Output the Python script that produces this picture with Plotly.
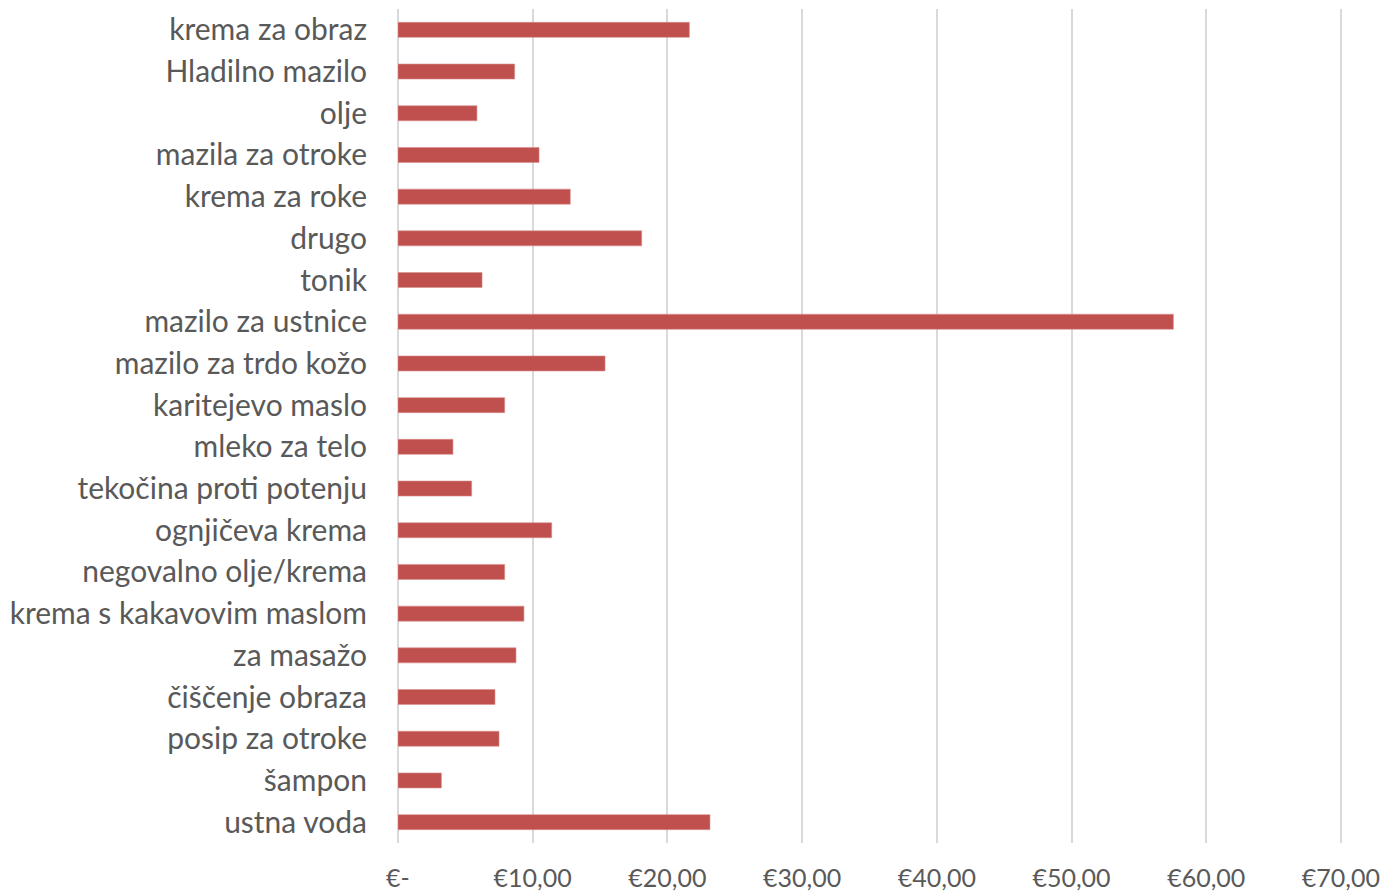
import plotly.graph_objects as go

# categories listed top to bottom, as in the picture
categories = [
    "krema za obraz", "Hladilno mazilo", "olje", "mazila za otroke",
    "krema za roke", "drugo", "tonik", "mazilo za ustnice",
    "mazilo za trdo kožo", "karitejevo maslo", "mleko za telo",
    "tekočina proti potenju", "ognjičeva krema", "negovalno olje/krema",
    "krema s kakavovim maslom", "za masažo", "čiščenje obraza",
    "posip za otroke", "šampon", "ustna voda",
]
prices = [
    21.63, 8.66, 5.86, 10.47,
    12.79, 18.09, 6.24, 57.56,
    15.37, 7.92, 4.08,
    5.47, 11.41, 7.92,
    9.35, 8.76, 7.20,
    7.50, 3.22, 23.16,
]
tick_vals = [0, 10, 20, 30, 40, 50, 60, 70]
tick_text = ["€-", "€10,00", "€20,00", "€30,00", "€40,00", "€50,00", "€60,00", "€70,00"]

fig = go.Figure(go.Bar(
    x=prices,
    y=categories,
    orientation="h",
    marker=dict(color="#c0504d", line=dict(color="#d98f8d", width=0.6)),
))

# the page body adds 8px on the left and top, so the figure is 8px smaller
fig.update_layout(
    width=1389,
    height=886,
    margin=dict(l=390, r=52, t=1, b=51),
    paper_bgcolor="white",
    plot_bgcolor="white",
    bargap=0.64,
    showlegend=False,
    font=dict(family="Lato", color="#595959", size=30),
)
fig.update_xaxes(
    range=[0, 70.3],  # a little past 70 so the last gridline is drawn
    tickvals=tick_vals,
    ticktext=tick_text,
    showgrid=True,
    gridcolor="#d9d9d9",
    gridwidth=1.5,
    zeroline=True,
    zerolinecolor="#d9d9d9",
    zerolinewidth=1.5,
    showline=False,
    ticks="",
    automargin=False,
    ticklabelstandoff=18,
    tickfont=dict(size=25, color="#595959"),
)
fig.update_yaxes(
    autorange="reversed",
    showgrid=False,
    showline=False,
    ticks="",
    automargin=False,
    ticklabelstandoff=30,
    tickfont=dict(size=30, color="#595959"),
)

fig.write_html("out.html")
